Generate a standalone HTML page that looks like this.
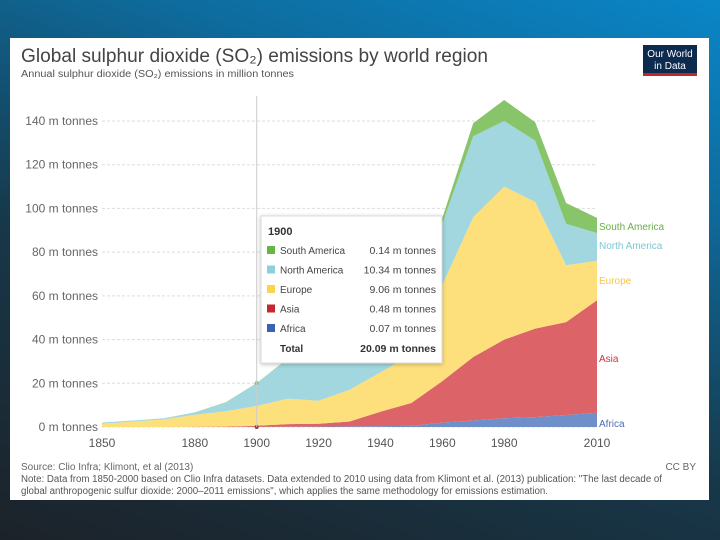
<!DOCTYPE html>
<html><head><meta charset="utf-8"><style>
body{margin:0;width:720px;height:540px;overflow:hidden;font-family:"Liberation Sans",sans-serif;
background:linear-gradient(20deg,#1c2229 0%,#17384a 40%,#0e6c9e 75%,#0a86c8 100%);}
#card{position:absolute;left:10px;top:38px;width:699px;height:462px;background:#fff;}
svg text{font-family:"Liberation Sans",sans-serif;}
</style></head><body>
<div id="card"></div>
<svg id="chart" width="720" height="540" style="position:absolute;left:0;top:0">
<text x="21" y="62" font-size="19" fill="#444" textLength="467" lengthAdjust="spacingAndGlyphs">Global sulphur dioxide (SO₂) emissions by world region</text>
<text x="21" y="77" font-size="10" fill="#555" textLength="273" lengthAdjust="spacingAndGlyphs">Annual sulphur dioxide (SO₂) emissions in million tonnes</text>
<g>
<rect x="643" y="45" width="54" height="30" fill="#0d2a4f"/>
<rect x="643" y="73" width="54" height="3" fill="#c0262c"/>
<text x="670" y="57" font-size="10" fill="#fff" text-anchor="middle">Our World</text>
<text x="670" y="69" font-size="10" fill="#fff" text-anchor="middle">in Data</text>
</g>
<g id="grid"></g><g id="areas"></g><g id="labels"></g>
<line x1="256.7" y1="96" x2="256.7" y2="427" stroke="#ccc" stroke-width="1"/>
<g id="tooltip">
<rect x="261" y="216" width="181" height="147" fill="#fff" stroke="#ddd" style="filter:drop-shadow(0 1px 2px rgba(0,0,0,0.25))"/>
</g>
<text x="21" y="470" font-size="10" fill="#666">Source: Clio Infra; Klimont, et al (2013)</text>
<text x="696" y="470" font-size="10" fill="#666" text-anchor="end">CC BY</text>
<text x="21" y="482" font-size="10" fill="#555" textLength="641" lengthAdjust="spacingAndGlyphs">Note: Data from 1850-2000 based on Clio Infra datasets. Data extended to 2010 using data from Klimont et al. (2013) publication: "The last decade of</text>
<text x="21" y="494" font-size="10" fill="#555" textLength="527" lengthAdjust="spacingAndGlyphs">global anthropogenic sulfur dioxide: 2000–2011 emissions", which applies the same methodology for emissions estimation.</text>
</svg>
<script>
const years=[1850,1860,1870,1880,1890,1900,1910,1920,1930,1940,1950,1960,1970,1980,1990,2000,2010];
const africa=[0,0,0,0,0,0.07,0.1,0.2,0.3,0.4,0.5,2,3,4,4.5,5.5,6.5];
const asia=[0,0,0,0.1,0.2,0.48,1.2,1.3,2.2,6.6,10.5,19,29,36,40.5,42.5,51.5];
const europe=[1.5,2.5,3.5,5.5,7,9.06,11.7,10.5,14.5,18,22,44,64,70,58,26,18];
const northAmerica=[0.5,0.5,0.5,1,4,10.34,18,22,22,23,22,28,37,30,28,19,12.7];
const southAmerica=[0,0,0,0.1,0.1,0.14,0.2,0.3,0.5,0.7,1,2.6,6,9.6,8.5,9.5,7];
const yTicks=[0,20,40,60,80,100,120,140];
const xTicks=[1850,1880,1900,1920,1940,1960,1980,2010];
const seriesNames=["Africa","Asia","Europe","North America","South America"];
const seriesData=[africa,asia,europe,northAmerica,southAmerica];
const fills=["#6e8fca","#dc6468","#fde07c","#a2d7df","#88c46a"];
const labelColors=["#4a6eb5","#c9343a","#f5c842","#7ec6d2","#6aad4c"];
const swatch=["#3a62b0","#c8282d","#fcd34a","#8acfdc","#6ab444"];
const NS="http://www.w3.org/2000/svg";
const x=y=>102+(y-1850)*(597-102)/160;
const yS=v=>427-v*(427-121)/140;
function mk(t,a,p){const e=document.createElementNS(NS,t);for(const k in a)e.setAttribute(k,a[k]);p.appendChild(e);return e;}
const grid=document.getElementById('grid');
yTicks.forEach(v=>{
 const l=mk('line',{x1:102,x2:597,y1:yS(v),y2:yS(v),stroke:'#ddd','stroke-dasharray':'3,2'},grid);
 
 
 const t=mk('text',{x:98,y:yS(v)+4,'font-size':12,fill:'#666','text-anchor':'end'},grid);
 t.textContent=v+' m tonnes';
 
 
});
xTicks.forEach(v=>{
 const t=mk('text',{x:x(v),y:447,'font-size':12,fill:'#555','text-anchor':'middle'},grid);
 t.textContent=v;
 
 
});
const areas=document.getElementById('areas');
let base=years.map(()=>0);
seriesData.forEach((s,i)=>{
 const top=base.map((b,j)=>b+s[j]);
 let d='M'+years.map((yr,j)=>x(yr)+','+yS(top[j])).join('L');
 for(let j=years.length-1;j>=0;j--)d+='L'+x(years[j])+','+yS(base[j]);
 const p=mk('path',{d:d+'Z',fill:fills[i]},areas);
 
 
 base=top;
});
const labelY=[423,358,280,245,226];
const lab=document.getElementById('labels');
seriesNames.forEach((n,i)=>{
 const t=mk('text',{x:599,y:labelY[i]+4,'font-size':10,fill:labelColors[i]},lab);
 t.textContent=n;
 
 
});
const k=years.indexOf(1900);
[0,base[k]].forEach(v=>{
 const c=mk('circle',{cx:x(1900),cy:yS(v),r:2,fill:v?'#88c46a':'#9b3a3a'},lab);
 
 
});
const tt=document.getElementById('tooltip');
const h=mk('text',{x:268,y:235,'font-size':11,'font-weight':'bold',fill:'#333'},tt);h.textContent='1900';
const order=[4,3,2,1,0];
order.forEach((si,r)=>{
 const yy=254+r*19.5;
 const sw=mk('rect',{x:267,y:yy-8,width:8,height:8,fill:swatch[si]},tt);
 
 
 const a=mk('text',{x:280,y:yy,'font-size':10,fill:'#444'},tt);a.textContent=seriesNames[si];
 
 
 const b=mk('text',{x:436,y:yy,'font-size':10.5,fill:'#444','text-anchor':'end'},tt);
 b.textContent=seriesData[si][k].toFixed(2)+' m tonnes';
 
 
});
const tl=mk('text',{x:280,y:352,'font-size':10,'font-weight':'bold',fill:'#333'},tt);tl.textContent='Total';
const tv=mk('text',{x:436,y:352,'font-size':10.5,'font-weight':'bold',fill:'#333','text-anchor':'end'},tt);
tv.textContent=base[k].toFixed(2)+' m tonnes';
</script>
</body></html>
